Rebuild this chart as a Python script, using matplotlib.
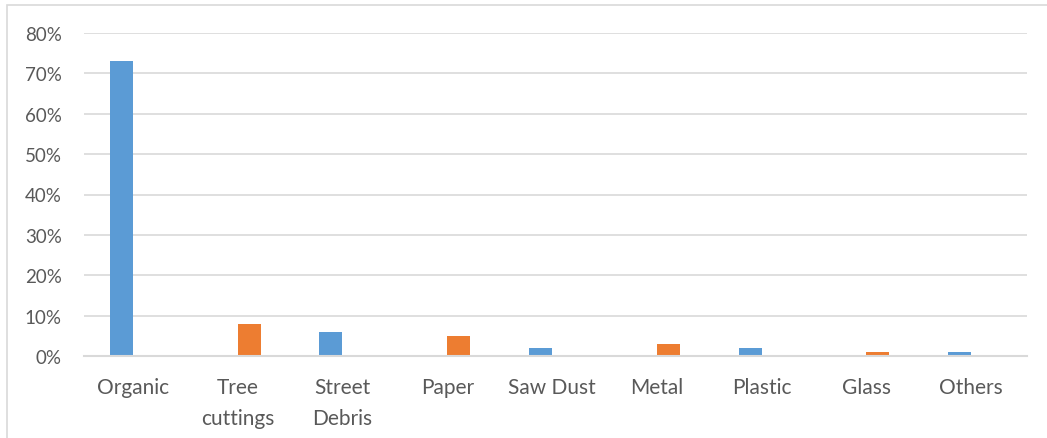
import matplotlib
matplotlib.use('Agg')
import matplotlib.pyplot as plt
import numpy as np
from matplotlib.patches import Rectangle
from matplotlib.ticker import PercentFormatter

# 데이터
categories = ['Organic', 'Tree\ncuttings', 'Street\nDebris', 'Paper', 'Saw Dust',
              'Metal', 'Plastic', 'Glass', 'Others']
series_blue = [0.73, 0, 0.06, 0, 0.02, 0, 0.02, 0, 0.01]
series_orange = [0, 0.08, 0, 0.05, 0, 0.03, 0, 0.01, 0]

plt.rcParams['font.family'] = ['Lato', 'DejaVu Sans']

fig = plt.figure(figsize=(10.47, 4.39), dpi=100)
ax = fig.add_axes([84 / 1047, 1 - 357 / 439, (1027 - 84) / 1047, (357 - 34) / 439])

x = np.arange(len(categories))
w = 0.22
ax.bar(x - w / 2, series_blue, w, color='#5B9BD5', zorder=3)
ax.bar(x + w / 2, series_orange, w, color='#ED7D31', zorder=3)

ax.set_xlim(-0.467, len(categories) - 0.467)
ax.set_ylim(0, 0.8)
ax.set_yticks(np.arange(0, 0.81, 0.1))
ax.yaxis.set_major_formatter(PercentFormatter(1.0, decimals=0))
ax.set_xticks(x)
ax.set_xticklabels(categories, linespacing=1.7)

ax.grid(axis='y', color='#d9d9d9', linewidth=1.2, zorder=0)
for s in ['top', 'right', 'left']:
    ax.spines[s].set_visible(False)
ax.spines['bottom'].set_color('#d9d9d9')
ax.spines['bottom'].set_linewidth(1.5)
ax.spines['bottom'].set_zorder(4)
ax.tick_params(axis='both', length=0, labelcolor='#595959')
ax.tick_params(axis='y', pad=16, labelsize=13.5)
ax.tick_params(axis='x', pad=15, labelsize=15)

# 차트 영역 테두리
fig.patches.append(Rectangle((7 / 1047, -0.1), 1.2, 1 - 6 / 439 + 0.1,
                             transform=fig.transFigure, fill=False,
                             edgecolor='#d9d9d9', linewidth=1.2))

fig.savefig('out.png', dpi=100)
